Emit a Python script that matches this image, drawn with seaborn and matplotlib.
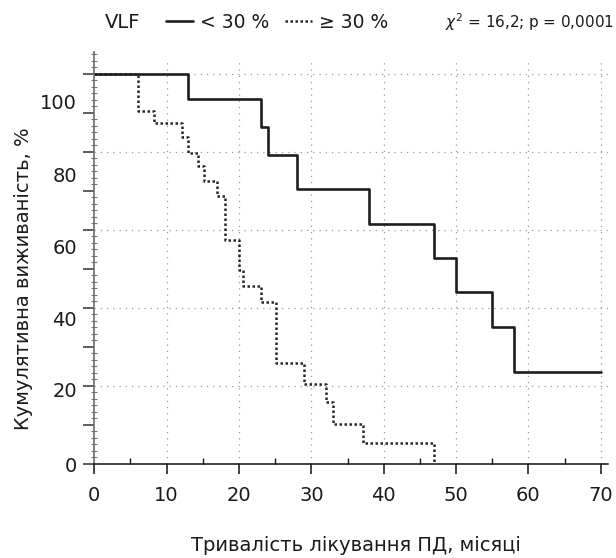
import numpy as np
import pandas as pd
import matplotlib
matplotlib.use("Agg")
import matplotlib.pyplot as plt
from matplotlib.ticker import MultipleLocator
import seaborn as sns

# ---- data ----
t_low = [0, 13, 23, 24, 28, 38, 47, 50, 55, 58, 70]
s_low = [100, 93.5, 86.4, 79.2, 70.4, 61.6, 52.8, 44.0, 35.2, 23.5, 23.5]

t_high = [0, 6, 8.2, 12.1, 13, 14.4, 15.1, 17, 18, 20, 20.5, 23.1, 25.1, 29, 32, 33, 37.2, 47]
s_high = [100, 90.4, 87.3, 83.7, 79.8, 76.3, 72.5, 68.8, 57.3, 49.7, 45.5, 41.5, 25.8, 20.5, 15.8, 10.3, 5.3, 0]

group_labels = ["< 30 %", "\u2265 30 %"]
legend_title = "VLF"
stat_text = r"$\chi^2$ = 16,2; p = 0,0001"
x_ticks = [0, 10, 20, 30, 40, 50, 60, 70]
y_tick_labels = ["0", "20", "40", "60", "80", "100"]
x_label = "Тривалість лікування ПД, місяці"
y_label = "Кумулятивна виживаність, %"

# ---- style ----
sns.set_theme(style="white")
plt.rcParams["font.family"] = ["DejaVu Sans"]
plt.rcParams["mathtext.fontset"] = "dejavusans"

FS = 14
TXT = "#1a1a1a"

fig = plt.figure(figsize=(6.16, 5.58), dpi=100)
ax = fig.add_axes([94.3 / 616, 94 / 558, (608 - 94.3) / 616, (464 - 52) / 558])

df_low = pd.DataFrame({"t": t_low, "s": s_low})
df_high = pd.DataFrame({"t": t_high, "s": s_high})

sns.lineplot(data=df_high, x="t", y="s", ax=ax, estimator=None, sort=False,
             drawstyle="steps-post", color="#262626", linewidth=1.8,
             linestyle=(0, (1, 1.0)), label=group_labels[1])
sns.lineplot(data=df_low, x="t", y="s", ax=ax, estimator=None, sort=False,
             drawstyle="steps-post", color="#1e1e1e", linewidth=1.9,
             label=group_labels[0])
if ax.get_legend() is not None:
    ax.get_legend().remove()

ax.set_xlim(0, 71.0)
ax.set_ylim(0, 105.6)

# grid
grid_kw = dict(color="#9a9a9a", linewidth=0.9, linestyle=(0, (1, 4)), zorder=0)
for gx in x_ticks[1:]:
    ax.axvline(gx, ymax=0.975, **grid_kw)
for gy in [20, 40, 60, 80, 100]:
    ax.axhline(gy, **grid_kw)

# spines
for side in ["top", "right"]:
    ax.spines[side].set_visible(False)
ax.spines["left"].set_color("#6e6e6e")
ax.spines["left"].set_linewidth(1.2)
ax.spines["bottom"].set_color("#111111")
ax.spines["bottom"].set_linewidth(1.1)

# x ticks
ax.set_xticks(x_ticks)
ax.xaxis.set_minor_locator(MultipleLocator(5))
ax.tick_params(axis="x", which="major", direction="out", length=7, width=1.1,
               color="#111111", labelsize=FS, pad=9, labelcolor=TXT,
               bottom=True)
ax.tick_params(axis="x", which="minor", direction="in", length=4, width=1.0,
               color="#111111", bottom=True)

# y ticks: long ticks every 10, short ticks every 10/6, no labels on main axis
ax.yaxis.set_major_locator(MultipleLocator(10))
ax.yaxis.set_minor_locator(MultipleLocator(10 / 6))
ax.tick_params(axis="y", which="major", direction="out", length=8, width=1.1,
               color="#333333", labelleft=False, left=True)
ax.tick_params(axis="y", which="minor", direction="inout", length=4, width=0.8,
               color="#777777", left=True)

# y tick labels as drawn in the reference (slightly offset from the grid)
sec = ax.secondary_yaxis("left")
sec.set_yticks([0, 19.0, 37.4, 55.7, 74.1, 92.9], y_tick_labels)
sec.tick_params(axis="y", length=0, pad=12.5, labelsize=FS, labelcolor=TXT)
sec.spines["left"].set_visible(False)

ax.set_xlabel(x_label, fontsize=FS, color=TXT)
ax.set_ylabel(y_label, fontsize=FS, color=TXT)
ax.xaxis.set_label_coords(0.51, -0.175)
ax.yaxis.set_label_coords(-0.12, 0.451)

# legend row on top
fig.text(105 / 616, 1 - 22 / 558, legend_title, fontsize=FS, va="center",
         ha="left", color=TXT)
h_high, h_low = ax.lines[0], ax.lines[1]
leg = fig.legend([h_low, h_high], group_labels, loc="center left",
                 bbox_to_anchor=(166 / 616, 1 - 22 / 558),
                 bbox_transform=fig.transFigure, ncol=2, frameon=False,
                 fontsize=13.5, handlelength=1.45, handletextpad=0.35,
                 columnspacing=0.85, borderpad=0, borderaxespad=0)
for txt in leg.get_texts():
    txt.set_color(TXT)
fig.text(614 / 616, 1 - 22 / 558, stat_text, fontsize=11, va="center",
         ha="right", color=TXT)

fig.savefig("out.png", dpi=100)
